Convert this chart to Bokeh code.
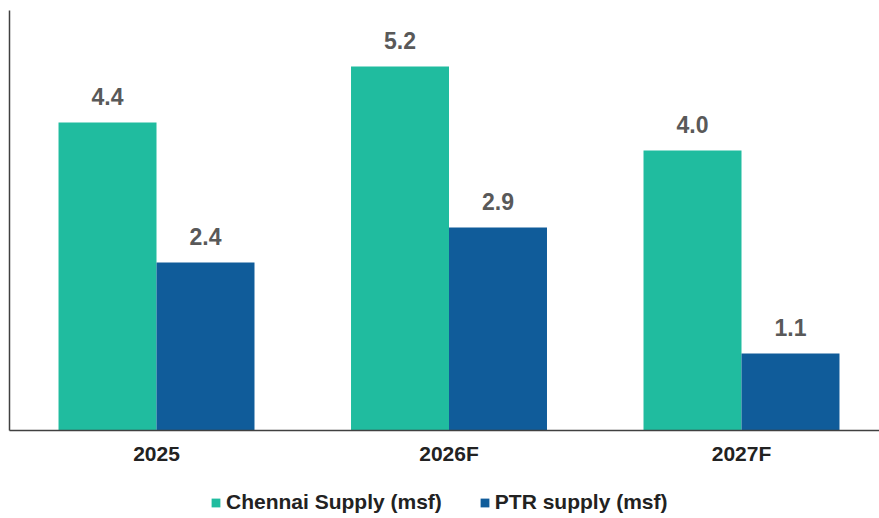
import numpy as np
from bokeh.plotting import figure
from bokeh.layouts import column
from bokeh.models import Range1d, FixedTicker, Legend, LegendItem
from bokeh.core.properties import value
from bokeh.embed import file_html
from bokeh.resources import INLINE

categories = ["2025", "2026F", "2027F"]
chennai_supply = [4.4, 5.2, 4.0]
ptr_supply = [2.4, 2.9, 1.1]
series_names = ["Chennai Supply (msf)", "PTR supply (msf)"]

GREEN = "#20BC9F"
BLUE = "#105C9A"
FONT = "Liberation Sans"

xpos = np.arange(len(categories))
bw = 0.335

p = figure(frame_width=870, frame_height=420, output_backend="svg", toolbar_location=None,
           x_range=Range1d(-0.5026, 2.4718), y_range=Range1d(0, 6),
           min_border_left=9, min_border_right=0, min_border_top=10, min_border_bottom=50)
p.outline_line_color = None
p.xgrid.visible = False
p.ygrid.visible = False

r1 = p.vbar(x=xpos - bw / 2, top=chennai_supply, width=bw, fill_color=GREEN, line_color=None)
r2 = p.vbar(x=xpos + bw / 2, top=ptr_supply, width=bw, fill_color=BLUE, line_color=None)

for xs, vals in ((xpos - bw / 2, chennai_supply), (xpos + bw / 2, ptr_supply)):
    p.text(x=xs, y=vals, text=["%.1f" % v for v in vals],
           text_align="center", text_baseline="alphabetic", y_offset=-26,
           text_font=value(FONT), text_font_style="bold", text_font_size="23px",
           text_color="#595959")

p.xaxis.ticker = FixedTicker(ticks=[float(i) for i in xpos])
p.xaxis.major_label_overrides = {int(i): c for i, c in zip(xpos, categories)}
p.xaxis.major_tick_line_color = None
p.xaxis.minor_tick_line_color = None
p.xaxis.axis_line_color = "#404040"
p.xaxis.axis_line_width = 1.5
p.xaxis.major_label_text_font = FONT
p.xaxis.major_label_text_font_style = "bold"
p.xaxis.major_label_text_font_size = "21px"
p.xaxis.major_label_text_color = "#222222"
p.xaxis.major_label_standoff = 5

p.yaxis.ticker = FixedTicker(ticks=[])
p.yaxis.major_tick_line_color = None
p.yaxis.minor_tick_line_color = None
p.yaxis.major_label_standoff = 0
p.yaxis.axis_line_color = "#404040"
p.yaxis.axis_line_width = 1.5

# legend strip below the chart (zero-height key bars, only their legend swatches show)
lg = figure(frame_width=879, frame_height=38, output_backend="svg", toolbar_location=None,
            x_range=Range1d(0, 1), y_range=Range1d(0, 1),
            x_axis_location=None, y_axis_location=None,
            min_border_left=0, min_border_right=0, min_border_top=0, min_border_bottom=0)
lg.outline_line_color = None
lg.xgrid.visible = False
lg.ygrid.visible = False
k1 = lg.vbar(x=[0.5], top=[0], width=bw, fill_color=GREEN, line_color=None)
k2 = lg.vbar(x=[0.5], top=[0], width=bw, fill_color=BLUE, line_color=None)

legend = Legend(items=[LegendItem(label=series_names[0], renderers=[k1]),
                       LegendItem(label=series_names[1], renderers=[k2])],
                orientation="horizontal", location=(210, 4),
                glyph_width=11, glyph_height=11, label_standoff=5, spacing=37,
                label_height=22,
                label_text_font=FONT, label_text_font_style="bold",
                label_text_font_size="21px", label_text_color="#222222",
                border_line_color=None, background_fill_alpha=0, padding=0, margin=0)
lg.add_layout(legend, "center")

layout = column(p, lg, spacing=0)
open("out.html", "w").write(file_html(layout, INLINE))
